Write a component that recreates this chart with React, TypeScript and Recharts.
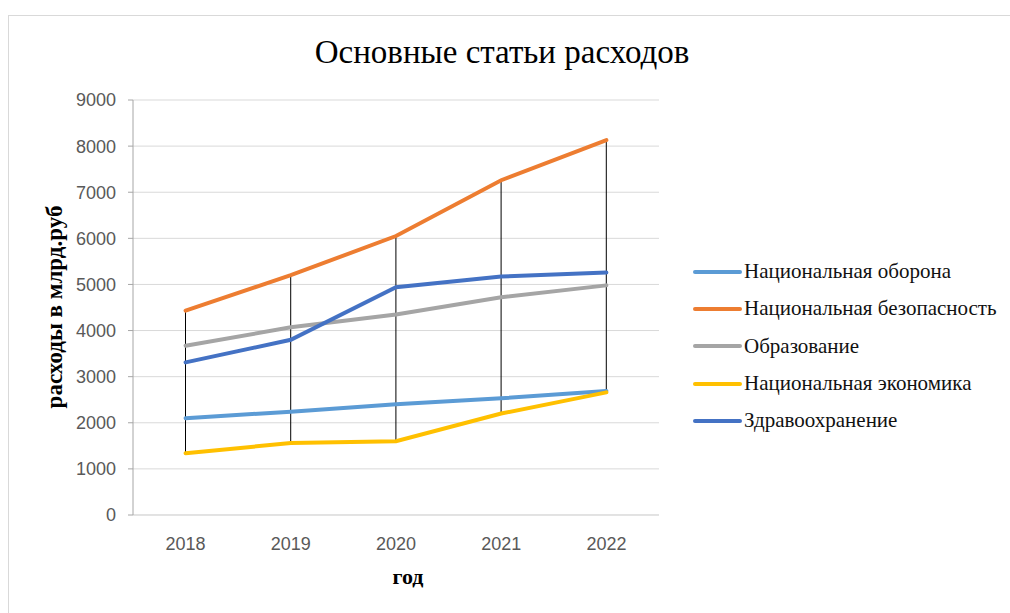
import React from 'react';
import { ComposedChart, Line, Bar, XAxis, YAxis, CartesianGrid } from 'recharts';

// годы и расходы по статьям, млрд руб
const years = ['2018', '2019', '2020', '2021', '2022'];
const defense = [2100, 2240, 2400, 2530, 2690];
const security = [4430, 5200, 6050, 7260, 8130];
const education = [3670, 4070, 4350, 4720, 4980];
const economy = [1340, 1560, 1600, 2200, 2660];
const health = [3310, 3800, 4940, 5170, 5260];
const yTicks = [0, 1000, 2000, 3000, 4000, 5000, 6000, 7000, 8000, 9000];

const series = [
  { key: 'defense', name: 'Национальная оборона', color: '#5B9BD5', values: defense },
  { key: 'security', name: 'Национальная безопасность', color: '#ED7D31', values: security },
  { key: 'education', name: 'Образование', color: '#A5A5A5', values: education },
  { key: 'economy', name: 'Национальная экономика', color: '#FFC000', values: economy },
  { key: 'health', name: 'Здравоохранение', color: '#4472C4', values: health },
];

const data = years.map((year, i) => {
  const row: any = { year };
  series.forEach((s) => (row[s.key] = s.values[i]));
  const vals = series.map((s) => s.values[i]);
  row.hilo = [Math.min(...vals), Math.max(...vals)];
  return row;
});

const serif = '"Liberation Serif", "DejaVu Serif", serif';
const sans = '"Liberation Sans", Arial, sans-serif';

// легенда справа, в порядке рядов
const ChartLegend = () => (
  <div style={{ position: 'absolute', left: 690, top: 253 }}>
    {series.map((s) => (
      <div key={s.key} style={{ display: 'flex', alignItems: 'center', height: 37.3 }}>
        <svg width={54} height={8}>
          <line x1={5} y1={4} x2={50} y2={4} stroke={s.color} strokeWidth={4} strokeLinecap="round" />
        </svg>
        <span style={{ fontFamily: serif, fontSize: 21, color: '#111', whiteSpace: 'nowrap' }}>{s.name}</span>
      </div>
    ))}
  </div>
);

export default function App() {
  return (
    <div style={{ position: 'absolute', left: 0, top: 0, width: 1010, height: 613, background: '#fff', overflow: 'hidden' }}>
      <div style={{ position: 'absolute', left: 8, top: 15, width: 1100, height: 700, border: '1px solid #d9d9d9' }} />
      <div style={{ position: 'absolute', left: 0, top: 34, width: 1004, textAlign: 'center', fontFamily: serif, fontSize: 33, color: '#000' }}>
        Основные статьи расходов
      </div>
      <ComposedChart width={1010} height={613} data={data} margin={{ top: 100, right: 351, left: 73, bottom: 58 }} style={{ position: 'absolute', left: 0, top: 0 }}>
        <CartesianGrid horizontal vertical={false} stroke="#d9d9d9" strokeWidth={1} />
        <XAxis
          dataKey="year"
          height={40}
          axisLine={{ stroke: '#d9d9d9' }}
          tickLine={false}
          tick={{ fill: '#595959', fontSize: 18, fontFamily: sans }}
          tickMargin={16}
        />
        <YAxis
          width={60}
          domain={[0, 9000]}
          ticks={yTicks}
          interval={0}
          axisLine={{ stroke: '#a6a6a6' }}
          tickLine={{ stroke: '#a6a6a6' }}
          tickSize={5}
          tickMargin={12}
          tick={{ fill: '#595959', fontSize: 18, fontFamily: sans }}
        />
        {series.map((s) => (
          <Line
            key={s.key}
            dataKey={s.key}
            name={s.name}
            stroke={s.color}
            strokeWidth={4}
            strokeLinecap="round"
            dot={false}
            activeDot={false}
            isAnimationActive={false}
          />
        ))}
        <Bar dataKey="hilo" barSize={1} fill="#000" isAnimationActive={false} />
      </ComposedChart>
      <ChartLegend />
      <div
        style={{
          position: 'absolute',
          left: 55,
          top: 307,
          transform: 'translate(-50%, -50%) rotate(-90deg)',
          fontFamily: serif,
          fontWeight: 'bold',
          fontSize: 23,
          whiteSpace: 'nowrap',
          color: '#000',
        }}
      >
        расходы в млрд.руб
      </div>
      <div style={{ position: 'absolute', left: 408, top: 577, transform: 'translate(-50%, -50%)', fontFamily: serif, fontWeight: 'bold', fontSize: 22, color: '#000' }}>
        год
      </div>
    </div>
  );
}
